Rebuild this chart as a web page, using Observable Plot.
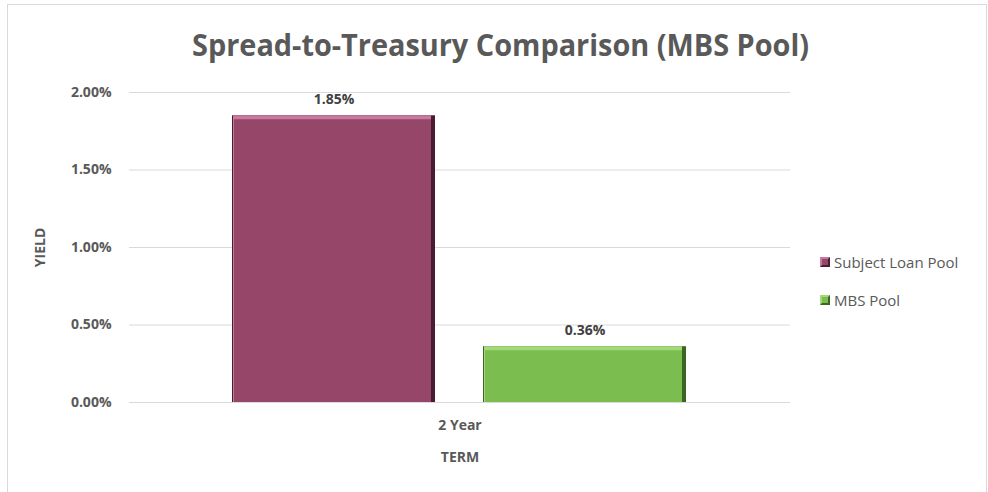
<!DOCTYPE html>
<html>
<head>
<meta charset="utf-8">
<script src="https://cdn.jsdelivr.net/npm/d3@7"></script>
<script src="https://cdn.jsdelivr.net/npm/@observablehq/plot@0.6"></script>
<style>
  html, body { margin: 0; padding: 0; background: #fff; }
  #wrap { position: relative; width: 988px; height: 492px; overflow: hidden; font-family: "Open Sans", sans-serif; }
  #frame { position: absolute; left: 7px; top: 4px; right: 1px; bottom: -2px; border: 1px solid #d9d9d9; }
  #title { position: absolute; left: 0; width: 988px; top: 24px; text-align: center; font-weight: 700; font-size: 30px; color: #595959; white-space: nowrap; }
  #title span { display: inline-block; transform-origin: center; }
  #chart { position: absolute; left: 0; top: 0; }
  #legend { position: absolute; left: 820px; top: 252px; font-size: 15px; color: #595959; }
  .item { display: flex; align-items: center; height: 20px; margin-bottom: 18px; }
  .sw { width: 10px; height: 10px; margin-right: 4px; box-sizing: border-box; }
</style>
</head>
<body>
<div id="wrap">
  <div id="frame"></div>
  <div id="chart"></div>
  <div id="title"><span id="titleText"></span></div>
  <div id="legend"></div>
</div>
<script>
// ---- data ----
const titleText = "Spread-to-Treasury Comparison (MBS Pool)";
const terms = ["2 Year"];
const series = ["Subject Loan Pool", "MBS Pool"];
const values = [1.85, 0.36];
const yTicks = [0, 0.5, 1.0, 1.5, 2.0];
const mainColors = ["#964769", "#7bbd4e"];
const lightColors = ["#c47a9a", "#a3d97a"];
const darkColors = ["#4a1c31", "#3a6620"];

const rows = series.map((s, i) => ({term: terms[0], series: s, value: values[i]}));

const fmt = d => d.toFixed(2) + "%";
const pick = arr => d => arr[series.indexOf(d.series)];

const plot = Plot.plot({
  width: 988,
  height: 492,
  marginTop: 92,
  marginBottom: 90,
  marginLeft: 129,
  marginRight: 198,
  style: {fontFamily: "Open Sans, sans-serif", color: "#595959", background: "transparent"},
  fx: {domain: terms, padding: 0},
  x: {domain: series, paddingInner: 0.19, paddingOuter: 0.407, axis: null},
  y: {domain: [0, 2.0]},
  marks: [
    Plot.gridY(yTicks, {stroke: "#d9d9d9", strokeOpacity: 1, strokeWidth: 1.2}),
    Plot.axisY(yTicks, {tickFormat: fmt, tickSize: 0, tickPadding: 18, fontSize: 14, fontWeight: 700, fill: "#595959",
      label: "YIELD", labelAnchor: "center", labelArrow: "none", labelOffset: 94}),
    Plot.axisFx({anchor: "bottom", tickSize: 0, tickPadding: 18, fontSize: 14, fontWeight: 700, fill: "#595959",
      label: "TERM", labelAnchor: "center", labelArrow: "none", labelOffset: 59}),
    // bevel: dark edge layer
    Plot.barY(rows, {fx: "term", x: "series", y: "value", fill: pick(darkColors)}),
    // light top edge
    Plot.barY(rows, {fx: "term", x: "series", y: "value", fill: pick(lightColors), insetLeft: 1, insetRight: 4}),
    // main face
    Plot.barY(rows, {fx: "term", x: "series", y: "value", fill: pick(mainColors), insetTop: 4, insetLeft: 2, insetRight: 4}),
    Plot.text(rows, {fx: "term", x: "series", y: "value", text: d => fmt(d.value), dy: -16, fontSize: 14, fontWeight: 700, fill: "#404040"})
  ]
});
document.getElementById("chart").appendChild(plot);

// title
const t = document.getElementById("titleText");
t.textContent = titleText;
const w = t.getBoundingClientRect().width;
t.style.transform = `translateX(7px) scaleX(${617 / w})`;

// legend
const legend = document.getElementById("legend");
series.forEach((s, i) => {
  const item = document.createElement("div");
  item.className = "item";
  const sw = document.createElement("div");
  sw.className = "sw";
  sw.style.background = mainColors[i];
  sw.style.borderTop = `2px solid ${lightColors[i]}`;
  sw.style.borderLeft = `2px solid ${lightColors[i]}`;
  sw.style.borderRight = `2px solid ${darkColors[i]}`;
  sw.style.borderBottom = `2px solid ${darkColors[i]}`;
  const label = document.createElement("span");
  label.textContent = s;
  item.appendChild(sw);
  item.appendChild(label);
  legend.appendChild(item);
});
</script>
</body>
</html>
